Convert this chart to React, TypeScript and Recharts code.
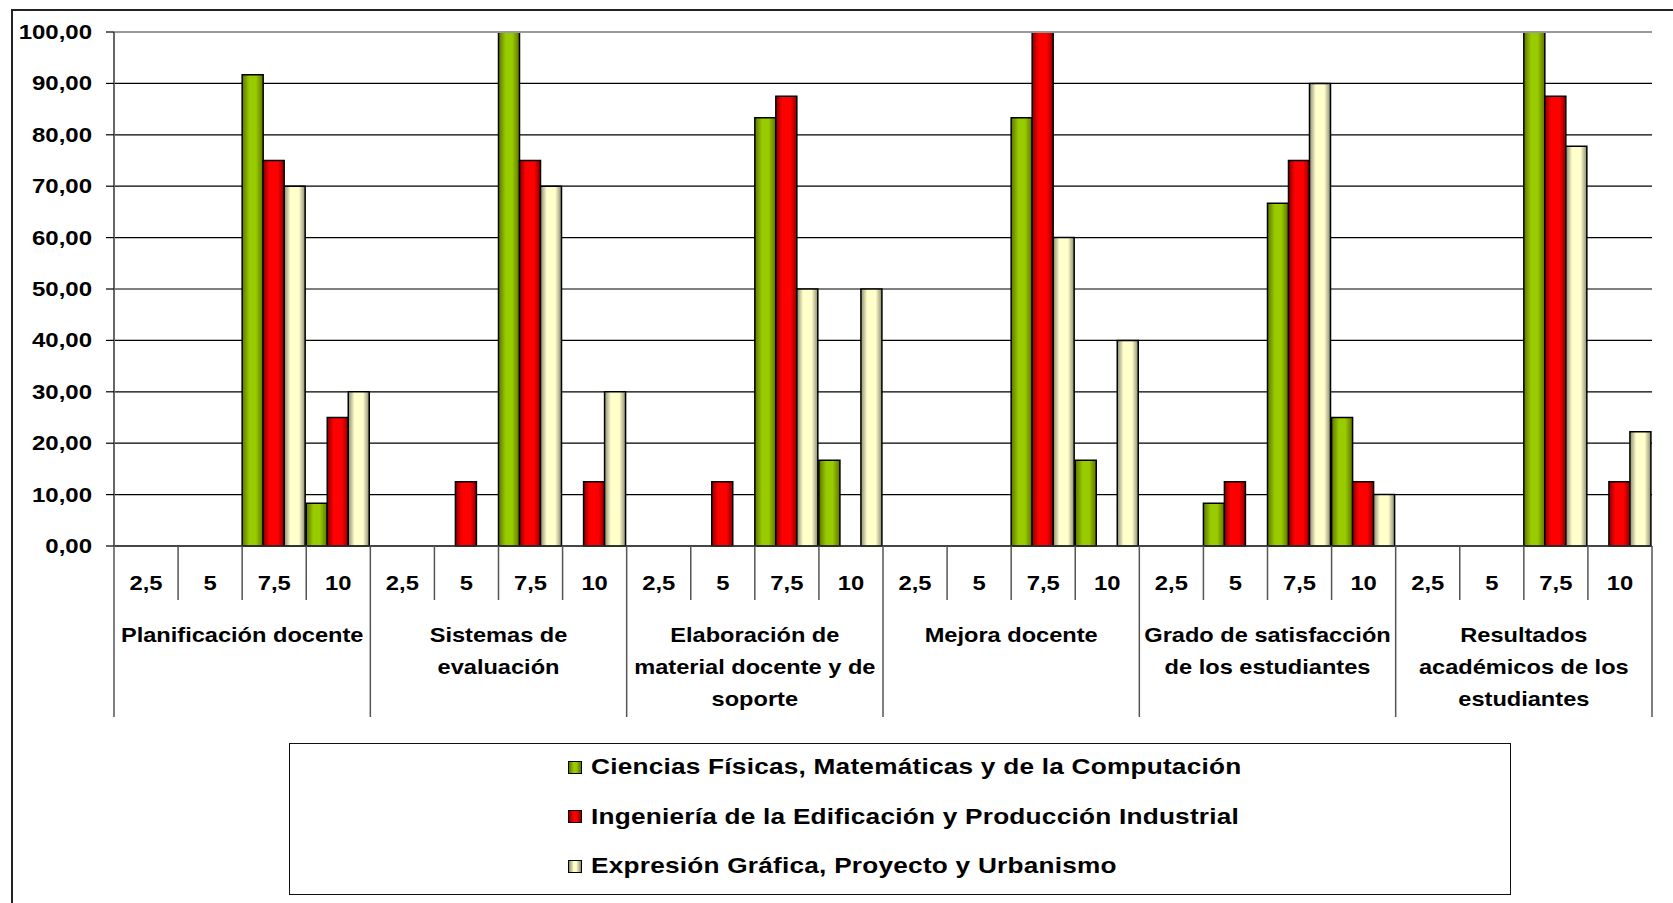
import { BarChart, Bar, XAxis, YAxis, CartesianGrid, ReferenceLine, Legend } from 'recharts';

const scores = ['2,5', '5', '7,5', '10'];
const groups = [
  'Planificación docente',
  'Sistemas de\nevaluación',
  'Elaboración de\nmaterial docente y de\nsoporte',
  'Mejora docente',
  'Grado de satisfacción\nde los estudiantes',
  'Resultados\nacadémicos de los\nestudiantes',
];
const seriesNames = [
  'Ciencias Físicas, Matemáticas y de la Computación',
  'Ingeniería de la Edificación y Producción Industrial',
  'Expresión Gráfica, Proyecto y Urbanismo',
];
const ciencias = [0, 0, 91.67, 8.33, 0, 0, 100, 0, 0, 0, 83.33, 16.67, 0, 0, 83.33, 16.67, 0, 8.33, 66.67, 25, 0, 0, 100, 0];
const ingenieria = [0, 0, 75, 25, 0, 12.5, 75, 12.5, 0, 12.5, 87.5, 0, 0, 0, 100, 0, 0, 12.5, 75, 12.5, 0, 0, 87.5, 12.5];
const expresion = [0, 0, 70, 30, 0, 0, 70, 30, 0, 0, 50, 50, 0, 0, 60, 40, 0, 0, 90, 10, 0, 0, 77.78, 22.22];
const yTicks = [0, 10, 20, 30, 40, 50, 60, 70, 80, 90, 100];

const rows = ciencias.map((v, i) => ({
  idx: i,
  score: scores[i % scores.length],
  group: groups[Math.floor(i / scores.length)],
  ciencias: v,
  ingenieria: ingenieria[i],
  expresion: expresion[i],
}));

const W = 1673;
const H = 903;
const PLOT_LEFT = 114;
const PLOT_RIGHT = 1652;
const X_AXIS_H = 170;
const FONT = '"Liberation Sans", Arial, sans-serif';

const swatches = [
  'linear-gradient(to right, #5f7400, #99cc00 40%, #99cc00 60%, #5f7400)',
  'linear-gradient(to right, #8a0000, #ff0000 40%, #ff0000 60%, #8a0000)',
  'linear-gradient(to right, #8c8c70, #ffffcc 40%, #ffffcc 60%, #8c8c70)',
];

function fmt(v: number) {
  return v.toFixed(2).replace('.', ',');
}

function ValueTick({ x, y, payload }: any) {
  return (
    <text
      transform={`translate(${x - 14},${y + 7}) scale(1.2,1)`}
      textAnchor="end"
      fontFamily={FONT}
      fontWeight="bold"
      fontSize={20}
      fill="#000"
    >
      {fmt(payload.value)}
    </text>
  );
}

function ScoreTick({ x, y, payload }: any) {
  const i = Number(payload.value);
  const row = rows[i];
  const bw = (PLOT_RIGHT - PLOT_LEFT) / rows.length;
  const lastInGroup = i % scores.length === scores.length - 1;
  const firstInGroup = i % scores.length === 0;
  const lines = row.group.split('\n');
  return (
    <g>
      <text
        transform={`translate(${x},${y + 44}) scale(1.19,1)`}
        textAnchor="middle"
        fontFamily={FONT}
        fontWeight="bold"
        fontSize={20}
        fill="#000"
      >
        {row.score}
      </text>
      <line
        x1={x + bw / 2}
        x2={x + bw / 2}
        y1={y}
        y2={y + (lastInGroup ? 171 : 54)}
        stroke="#555"
        strokeWidth={1.5}
      />
      {i === 0 && (
        <line x1={x - bw / 2} x2={x - bw / 2} y1={y} y2={y + 171} stroke="#555" strokeWidth={1.5} />
      )}
      {firstInGroup &&
        lines.map((t: string, k: number) => (
          <text
            key={k}
            transform={`translate(${x + bw * 1.5},${y + 96 + k * 32}) scale(1.18,1)`}
            textAnchor="middle"
            fontFamily={FONT}
            fontWeight="bold"
            fontSize={20}
            fill="#000"
          >
            {t}
          </text>
        ))}
    </g>
  );
}

function LegendBox() {
  return (
    <div
      style={{
        boxSizing: 'border-box',
        width: 1222,
        height: 152,
        border: '1.5px solid #111',
        background: '#fff',
        position: 'relative',
        fontFamily: FONT,
        fontWeight: 'bold',
        fontSize: 22,
        color: '#000',
      }}
    >
      {seriesNames.map((name, k) => (
        <div
          key={name}
          style={{ position: 'absolute', left: 278, top: 23 + k * 49.5 - 13, height: 26, display: 'flex', alignItems: 'center' }}
        >
          <span
            style={{
              display: 'inline-block',
              boxSizing: 'border-box',
              width: 14,
              height: 13,
              border: '1.5px solid #000',
              background: swatches[k],
              marginRight: 9,
            }}
          />
          <span
            style={{
              display: 'inline-block',
              whiteSpace: 'nowrap',
              transform: 'scaleX(1.19)',
              transformOrigin: 'left center',
              letterSpacing: '0.2px',
            }}
          >
            {name}
          </span>
        </div>
      ))}
    </div>
  );
}

export default function App() {
  return (
    <div style={{ position: 'absolute', left: 0, top: 0, width: W, height: H, overflow: 'hidden', background: '#fff' }}>
      <div
        style={{
          position: 'absolute',
          left: 11,
          top: 9,
          width: W,
          height: H,
          borderTop: '2px solid #222',
          borderLeft: '2px solid #222',
        }}
      />
      <div style={{ position: 'absolute', left: 0, top: 0 }}>
        <BarChart
          width={W}
          height={H}
          data={rows}
          barCategoryGap={0}
          barGap={0}
          margin={{ top: 32, right: W - PLOT_RIGHT, bottom: H - 546 - X_AXIS_H, left: 0 }}
        >
          <defs>
            <linearGradient id="gGreen" x1="0" y1="0" x2="1" y2="0">
              <stop offset="0%" stopColor="#5f7400" />
              <stop offset="35%" stopColor="#99cc00" />
              <stop offset="65%" stopColor="#99cc00" />
              <stop offset="100%" stopColor="#5f7400" />
            </linearGradient>
            <linearGradient id="gRed" x1="0" y1="0" x2="1" y2="0">
              <stop offset="0%" stopColor="#8a0000" />
              <stop offset="30%" stopColor="#ff0000" />
              <stop offset="70%" stopColor="#ff0000" />
              <stop offset="100%" stopColor="#8a0000" />
            </linearGradient>
            <linearGradient id="gCream" x1="0" y1="0" x2="1" y2="0">
              <stop offset="0%" stopColor="#8c8c70" />
              <stop offset="30%" stopColor="#ffffcc" />
              <stop offset="70%" stopColor="#ffffcc" />
              <stop offset="100%" stopColor="#8c8c70" />
            </linearGradient>
          </defs>
          <CartesianGrid vertical={false} stroke="#000" strokeWidth={1.2} />
          <XAxis
            dataKey="idx"
            type="category"
            interval={0}
            height={X_AXIS_H}
            tickLine={false}
            tickSize={0}
            tickMargin={0}
            axisLine={{ stroke: '#333', strokeWidth: 1.5 }}
            tick={<ScoreTick />}
          />
          <YAxis
            width={PLOT_LEFT}
            domain={[0, 100]}
            ticks={yTicks}
            interval={0}
            tickSize={8}
            tickMargin={0}
            tickLine={{ stroke: '#000', strokeWidth: 1.2 }}
            axisLine={{ stroke: '#666', strokeWidth: 2 }}
            tick={<ValueTick />}
          />
          <YAxis
            yAxisId="frame"
            orientation="right"
            width={0}
            domain={[0, 100]}
            tick={false}
            tickLine={false}
            axisLine={{ stroke: '#999', strokeWidth: 2 }}
          />
          <ReferenceLine y={100} stroke="#999" strokeWidth={2} />
          <Legend
            layout="vertical"
            align="center"
            verticalAlign="middle"
            content={<LegendBox />}
            wrapperStyle={{ left: 289, top: 743, width: 1222, height: 152 }}
          />
          <Bar dataKey="ciencias" name={seriesNames[0]} fill="url(#gGreen)" stroke="#000" strokeWidth={1.5} isAnimationActive={false} />
          <Bar dataKey="ingenieria" name={seriesNames[1]} fill="url(#gRed)" stroke="#000" strokeWidth={1.5} isAnimationActive={false} />
          <Bar dataKey="expresion" name={seriesNames[2]} fill="url(#gCream)" stroke="#000" strokeWidth={1.5} isAnimationActive={false} />
        </BarChart>
      </div>
    </div>
  );
}
